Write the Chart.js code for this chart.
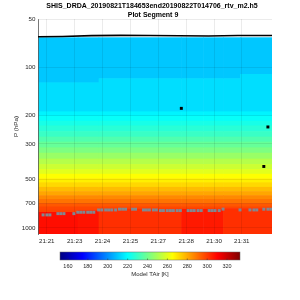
<!DOCTYPE html>
<html>
<head>
<meta charset="utf-8">
<script src="https://cdn.jsdelivr.net/npm/chart.js@4/dist/chart.umd.min.js"></script>
<style>
  html, body { margin: 0; padding: 0; background: #fff; }
  canvas { display: block; }
</style>
</head>
<body>
<canvas id="chart" width="300" height="300"></canvas>
<script>
// Titles
const titleLines = ['SHIS_DRDA_20190821T184653end20190822T014706_rtv_m2.h5', 'Plot Segment 9'];

// Axes (time in minutes after 21:00, pressure in hPa)
const xTickVals = [21.2, 22.63, 24.06, 25.49, 26.92, 28.35, 29.78, 31.2];
const xTickLabels = ['21:21', '21:23', '21:24', '21:25', '21:27', '21:28', '21:30', '21:31'];
const yTicks = [50, 100, 200, 300, 500, 700, 1000];

// Colour scale
const cMin = 152, cMax = 333;
const cbTicks = [160, 180, 200, 220, 240, 260, 280, 300, 320];

// Model columns: time edges and per column values
const colTimes = [20.75, 22.79, 23.86, 28.10, 29.22, 30.24, 31.11, 32.75];
const colBandP = [124, 124, 117, 117, 117, 117, 110];
const colSfcTop = [795, 780, 760, 760, 760, 752, 752];
const colSfcT = [308, 307, 302, 306, 306, 302, 302];

// Upper layers (shared)
const topP = 65;
const upperT = [210, 214, 218];      // top..band, band..188, 188..200
const upperP = [188, 200];

// Profile below 200 hPa: layer edges and layer temperatures
const profP = [200, 215, 230, 250, 270, 290, 315, 340, 370, 400, 430, 460, 490, 520, 555, 590, 625, 660, 700, 735, 770, 850];
const profT = [221, 224, 227, 230, 234, 238, 242, 247, 252, 256, 260, 265, 268, 272, 277, 281, 286, 290, 295, 298, 299];
const bottomP = 1090;

// Black line near the top
const lineT = [20.75, 22, 23.5, 25, 26.5, 28, 29.5, 31, 32.75];
const lineP = [64.5, 64.3, 63.5, 63.2, 63.4, 63.6, 63.8, 63.3, 63.3];

// Grey markers
const greyT = [21.01, 21.21, 21.36, 21.77, 21.92, 22.08, 22.59, 22.79, 22.94, 23.10, 23.30, 23.45, 23.61,
  23.86, 24.02, 24.22, 24.37, 24.53, 24.73, 24.93, 25.09, 25.24, 25.60, 25.75, 26.16, 26.31, 26.46, 26.67, 26.82,
  27.03, 27.18, 27.38, 27.54, 27.69, 27.89, 28.05, 28.45, 28.61, 28.76, 28.96, 29.12, 29.53, 29.68, 29.83, 30.04,
  30.24, 31.11, 31.62, 31.82, 31.97, 32.33, 32.54, 32.69];
const greyP = [829, 829, 829, 814, 814, 814, 814, 798, 798, 798, 798, 798, 798,
  772, 772, 772, 772, 772, 772, 764, 764, 764, 764, 764, 772, 772, 772, 772, 772,
  779, 779, 779, 779, 779, 779, 779, 779, 779, 779, 779, 779, 779, 779, 779, 779,
  763, 772, 772, 772, 772, 764, 764, 764];

// Black markers
const blackT = [28.10, 32.54, 32.33];
const blackP = [180, 235, 414];

const FONT = "'Liberation Sans', Arial, sans-serif";

function jet(f) {
  f = Math.min(1, Math.max(0, f));
  const c = v => Math.round(255 * Math.min(1, Math.max(0, v)));
  return `rgb(${c(1.5 - Math.abs(4 * f - 3))},${c(1.5 - Math.abs(4 * f - 2))},${c(1.5 - Math.abs(4 * f - 1))})`;
}

function columnLayers(c) {
  const layers = [
    [topP, colBandP[c], upperT[0]],
    [colBandP[c], upperP[0], upperT[1]],
    [upperP[0], upperP[1], upperT[2]]
  ];
  for (let i = 0; i < profT.length; i++) {
    const a = profP[i], b = Math.min(profP[i + 1], colSfcTop[c]);
    if (a < b) layers.push([a, b, profT[i]]);
  }
  layers.push([colSfcTop[c], bottomP, colSfcT[c]]);
  return layers;
}

const heatmapPlugin = {
  id: 'heatmap',
  beforeDraw(chart) {
    const { ctx, chartArea, scales: { x, y } } = chart;
    ctx.save();
    ctx.beginPath();
    ctx.rect(chartArea.left, chartArea.top, chartArea.right - chartArea.left, chartArea.bottom - chartArea.top);
    ctx.clip();
    for (let c = 0; c < colTimes.length - 1; c++) {
      const x0 = x.getPixelForValue(colTimes[c]);
      const x1 = x.getPixelForValue(colTimes[c + 1]);
      columnLayers(c).forEach(([pa, pb, t]) => {
        const y0 = y.getPixelForValue(pa);
        const y1 = y.getPixelForValue(pb);
        ctx.fillStyle = jet((t - cMin) / (cMax - cMin));
        ctx.fillRect(x0, y0, x1 - x0 + 0.6, y1 - y0 + 0.6);
      });
    }
    ctx.restore();
  }
};

const decorPlugin = {
  id: 'decor',
  afterDraw(chart) {
    const { ctx } = chart;
    ctx.save();
    // title
    ctx.fillStyle = '#000';
    ctx.textAlign = 'center';
    ctx.textBaseline = 'middle';
    ctx.font = `bold 7px ${FONT}`;
    ctx.fillText(titleLines[0], 152, 6);
    ctx.fillText(titleLines[1], 153, 15);

    // colourbar
    const cbL = 60, cbR = 240, cbT = 252, cbB = 260;
    const grad = ctx.createLinearGradient(cbL, 0, cbR, 0);
    [0, 0.125, 0.375, 0.625, 0.875, 1].forEach(s => grad.addColorStop(s, jet(s)));
    ctx.fillStyle = grad;
    ctx.fillRect(cbL, cbT, cbR - cbL, cbB - cbT);
    ctx.strokeStyle = '#666';
    ctx.lineWidth = 0.5;
    ctx.strokeRect(cbL, cbT, cbR - cbL, cbB - cbT);
    ctx.fillStyle = '#262626';
    ctx.font = `5.5px ${FONT}`;
    ctx.textBaseline = 'middle';
    cbTicks.forEach(v => {
      const px = cbL + (v - cMin) / (cMax - cMin) * (cbR - cbL);
      ctx.beginPath();
      ctx.moveTo(px, cbB);
      ctx.lineTo(px, cbB - 1.5);
      ctx.strokeStyle = '#333';
      ctx.stroke();
      ctx.fillText(String(v), px, 266);
    });
    ctx.font = `6px ${FONT}`;
    ctx.fillText('Model TAir [K]', 150, 274);
    ctx.restore();
  }
};

new Chart(document.getElementById('chart'), {
  type: 'scatter',
  data: {
    datasets: [
      {
        data: lineT.map((t, i) => ({ x: t, y: lineP[i] })),
        showLine: true, borderColor: '#000', borderWidth: 1.6, pointRadius: 0
      },
      {
        data: greyT.map((t, i) => ({ x: t, y: greyP[i] })),
        pointStyle: 'rect', pointRadius: 2.1, backgroundColor: '#808890', borderWidth: 0
      },
      {
        data: blackT.map((t, i) => ({ x: t, y: blackP[i] })),
        pointStyle: 'rect', pointRadius: 2.1, backgroundColor: '#000', borderWidth: 0
      }
    ]
  },
  options: {
    responsive: false,
    animation: false,
    devicePixelRatio: 1,
    layout: { padding: { top: 19, right: 28, left: 0, bottom: 0 } },
    plugins: { legend: { display: false }, tooltip: { enabled: false } },
    scales: {
      x: {
        type: 'linear',
        min: colTimes[0],
        max: colTimes[colTimes.length - 1],
        afterFit(s) { s.height = 66; },
        afterBuildTicks(s) { s.ticks = xTickVals.map(v => ({ value: v })); },
        ticks: {
          callback: (v, i) => xTickLabels[i],
          font: { size: 6.2, family: FONT }, color: '#262626',
          padding: 4, maxRotation: 0, autoSkip: false
        },
        grid: { color: 'rgba(0,0,0,0.08)', drawTicks: false },
        border: { display: false }
      },
      y: {
        type: 'logarithmic',
        reverse: true,
        min: 50,
        max: bottomP,
        afterFit(s) { s.width = 38; },
        afterBuildTicks(s) { s.ticks = yTicks.map(v => ({ value: v })); },
        ticks: {
          callback: v => String(v),
          font: { size: 6.2, family: FONT }, color: '#262626',
          padding: 2.5, autoSkip: false
        },
        grid: { color: 'rgba(0,0,0,0.08)', drawTicks: false },
        border: { display: true, color: '#555', width: 0.8 },
        title: {
          display: true, text: 'P (hPa)',
          font: { size: 6.2, family: FONT }, color: '#262626',
          padding: { top: 13, bottom: 0 }
        }
      }
    }
  },
  plugins: [heatmapPlugin, decorPlugin]
});
</script>
</body>
</html>
